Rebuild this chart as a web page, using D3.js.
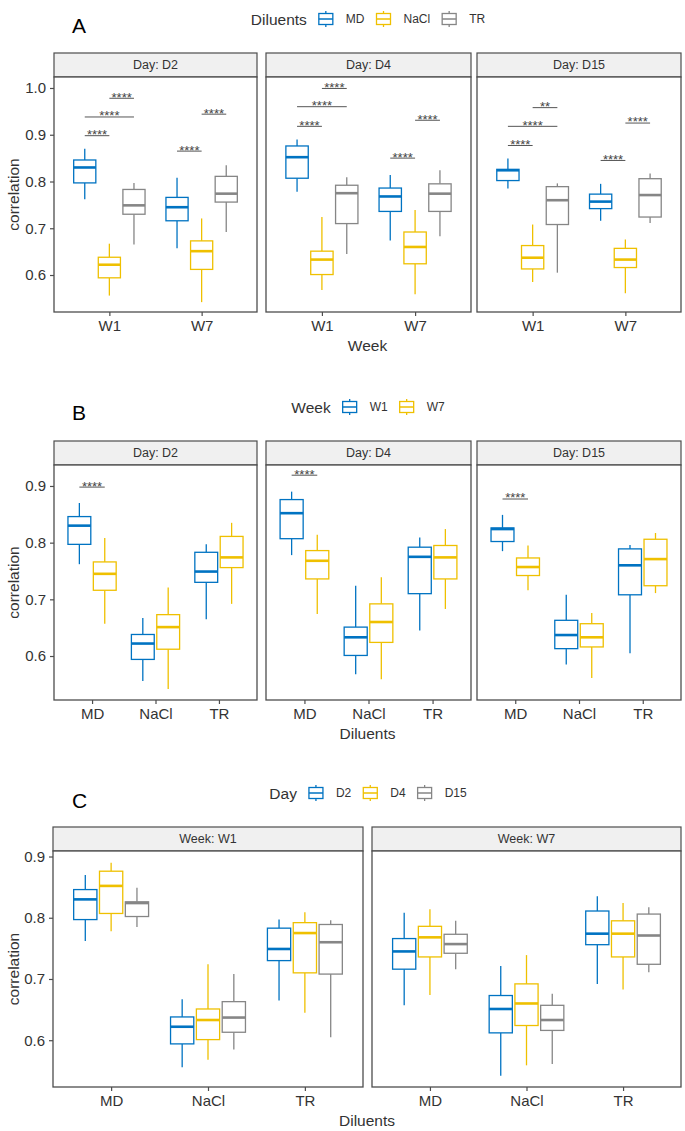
<!DOCTYPE html>
<html><head><meta charset="utf-8">
<script src="https://cdn.jsdelivr.net/npm/d3@7"></script>
<style>
body{margin:0;background:#fff}
svg{display:block}
text{font-family:"Liberation Sans",Arial,Helvetica,sans-serif}
</style>
</head><body>
<svg id="chart" width="685" height="1131"></svg>
<script>
// ---------------- DATA ----------------
const days = ["D2", "D4", "D15"];
const weeks = ["W1", "W7"];
const diluents = ["MD", "NaCl", "TR"];
const palette = ["#0073C2", "#EFC000", "#868686"];

// five-number summaries [lower whisker, Q1, median, Q3, upper whisker] in order MD, NaCl, TR
const D2_W1  = [[0.762,0.797,0.830,0.846,0.870],[0.556,0.594,0.622,0.638,0.667],[0.665,0.730,0.749,0.783,0.797]];
const D2_W7  = [[0.657,0.716,0.745,0.766,0.808],[0.542,0.612,0.651,0.673,0.721],[0.692,0.756,0.774,0.811,0.835]];
const D4_W1  = [[0.778,0.807,0.852,0.876,0.890],[0.568,0.601,0.633,0.651,0.724],[0.645,0.710,0.775,0.792,0.809]];
const D4_W7  = [[0.674,0.736,0.768,0.786,0.814],[0.559,0.624,0.660,0.692,0.739],[0.683,0.736,0.774,0.795,0.824]];
const D15_W1 = [[0.785,0.802,0.824,0.826,0.849],[0.585,0.613,0.637,0.663,0.708],[0.605,0.708,0.760,0.789,0.796]];
const D15_W7 = [[0.716,0.742,0.757,0.773,0.795],[0.561,0.616,0.633,0.657,0.676],[0.711,0.724,0.771,0.806,0.817]];

// significance annotations, panel A: [week, group1, group2, y, label]
const sigA_D2  = [["W1","MD","NaCl",0.898,"****"],["W1","MD","TR",0.938,"****"],["W1","NaCl","TR",0.978,"****"],
                  ["W7","MD","NaCl",0.865,"****"],["W7","NaCl","TR",0.944,"****"]];
const sigA_D4  = [["W1","MD","NaCl",0.918,"****"],["W1","MD","TR",0.960,"****"],["W1","NaCl","TR",0.999,"****"],
                  ["W7","MD","NaCl",0.850,"****"],["W7","NaCl","TR",0.931,"****"]];
const sigA_D15 = [["W1","MD","NaCl",0.877,"****"],["W1","MD","TR",0.918,"****"],["W1","NaCl","TR",0.958,"**"],
                  ["W7","MD","NaCl",0.845,"****"],["W7","NaCl","TR",0.925,"****"]];
// panel B: [day, diluent, group1, group2, y, label]
const sigB = [["D2","MD","W1","W7",0.898,"****"],["D4","MD","W1","W7",0.919,"****"],["D15","MD","W1","W7",0.877,"****"]];

const ticksA = [0.6, 0.7, 0.8, 0.9, 1.0];
const ticksBC = [0.6, 0.7, 0.8, 0.9];

// ---------------- lookup ----------------
const statTable = {D2:{W1:D2_W1,W7:D2_W7}, D4:{W1:D4_W1,W7:D4_W7}, D15:{W1:D15_W1,W7:D15_W7}};
function stat(day, week, dil){ return statTable[day][week][diluents.indexOf(dil)]; }
const sigATable = {D2:sigA_D2, D4:sigA_D4, D15:sigA_D15};

// ---------------- drawing ----------------
const svg = d3.select("#chart");
const BORDER = "#4d4d4d", TXT = "#333";

function facetRow(cfg){
  const g = svg.append("g");
  const y = d3.scaleLinear().domain(cfg.domain).range([cfg.bottom, cfg.top]);
  cfg.panels.forEach((p, pi) => {
    const [x0, x1] = p;
    // strip
    g.append("rect").attr("x", x0).attr("y", cfg.stripTop).attr("width", x1 - x0).attr("height", cfg.top - cfg.stripTop)
      .attr("fill", "#f0f0f0").attr("stroke", BORDER).attr("stroke-width", 1.2);
    g.append("text").attr("x", (x0 + x1) / 2).attr("y", (cfg.stripTop + cfg.top) / 2 + 4.3)
      .attr("text-anchor", "middle").attr("font-size", 12.5).attr("fill", TXT).text(cfg.facetLabels[pi]);
    // panel
    g.append("rect").attr("x", x0).attr("y", cfg.top).attr("width", x1 - x0).attr("height", cfg.bottom - cfg.top)
      .attr("fill", "#fff");
    const x = d3.scalePoint().domain(cfg.cats).range([x0, x1]).padding(0.6);
    const step = x.step();
    const ng = cfg.groups.length;
    const dodge = step * 0.8 / ng;
    const bw = dodge * 0.9;
    const gx = (cat, gi) => x(cat) + (gi - (ng - 1) / 2) * dodge;

    cfg.cats.forEach(cat => {
      cfg.groups.forEach((grp, gi) => {
        const s = cfg.getStats(pi, cat, grp);
        const cx = gx(cat, gi), col = palette[gi];
        const bx = g.append("g");
        bx.append("line").attr("x1", cx).attr("x2", cx).attr("y1", y(s[4])).attr("y2", y(s[3]))
          .attr("stroke", col).attr("stroke-width", 1.3);
        bx.append("line").attr("x1", cx).attr("x2", cx).attr("y1", y(s[1])).attr("y2", y(s[0]))
          .attr("stroke", col).attr("stroke-width", 1.3);
        bx.append("rect").attr("x", cx - bw / 2).attr("y", y(s[3])).attr("width", bw).attr("height", y(s[1]) - y(s[3]))
          .attr("fill", "#fff").attr("stroke", col).attr("stroke-width", 1.3);
        bx.append("line").attr("x1", cx - bw / 2).attr("x2", cx + bw / 2).attr("y1", y(s[2])).attr("y2", y(s[2]))
          .attr("stroke", col).attr("stroke-width", 2.6);
      });
    });
    // significance
    (cfg.sigs ? cfg.sigs(pi) : []).forEach(sg => {
      const xa = gx(sg.cat, cfg.groups.indexOf(sg.g1)), xb = gx(sg.cat, cfg.groups.indexOf(sg.g2));
      const yy = y(sg.y);
      g.append("line").attr("x1", xa).attr("x2", xb).attr("y1", yy).attr("y2", yy)
        .attr("stroke", "#555").attr("stroke-width", 1);
      g.append("text").attr("x", (xa + xb) / 2).attr("y", yy + 3.4).attr("text-anchor", "middle")
        .attr("font-size", 13).attr("fill", "#444").text(sg.label);
    });
    // border
    g.append("rect").attr("x", x0).attr("y", cfg.top).attr("width", x1 - x0).attr("height", cfg.bottom - cfg.top)
      .attr("fill", "none").attr("stroke", BORDER).attr("stroke-width", 1.3);
    // x axis
    const ax = g.append("g").attr("transform", `translate(0,${cfg.bottom})`)
      .call(d3.axisBottom(x).tickSize(4).tickPadding(4));
    ax.select(".domain").remove();
    ax.selectAll("line").attr("stroke", BORDER).attr("stroke-width", 1.2);
    ax.selectAll("text").attr("font-size", 15).attr("fill", TXT).attr("font-family", null);
    // y axis on first panel
    if (pi === 0) {
      const ay = g.append("g").attr("transform", `translate(${x0},0)`)
        .call(d3.axisLeft(y).tickValues(cfg.ticks).tickFormat(d3.format(".1f")).tickSize(4).tickPadding(4));
      ay.select(".domain").remove();
      ay.selectAll("line").attr("stroke", BORDER).attr("stroke-width", 1.2);
      ay.selectAll("text").attr("font-size", 15).attr("fill", TXT).attr("font-family", null);
    }
  });
  // axis titles
  const xl = cfg.panels[0][0], xr = cfg.panels[cfg.panels.length - 1][1];
  g.append("text").attr("x", (xl + xr) / 2).attr("y", cfg.bottom + 39).attr("text-anchor", "middle")
    .attr("font-size", 15.5).attr("fill", TXT).text(cfg.xTitle);
  g.append("text").attr("transform", `translate(19,${(cfg.top + cfg.bottom) / 2}) rotate(-90)`)
    .attr("text-anchor", "middle").attr("font-size", 15.5).attr("fill", TXT).text("correlation");
  // panel letter
  g.append("text").attr("x", 72).attr("y", cfg.letterY).attr("font-size", 21).attr("fill", "#000").text(cfg.letter);
  // legend
  const lg = g.append("g");
  const title = lg.append("text").attr("x", 0).attr("y", 5.5).attr("font-size", 15.5).attr("fill", TXT).text(cfg.legendTitle);
  let cur = title.node().getComputedTextLength() + 10;
  cfg.groups.forEach((lab, i) => {
    const col = palette[i];
    const kx = cur + 9;
    lg.append("line").attr("x1", kx).attr("x2", kx).attr("y1", -8).attr("y2", 8).attr("stroke", col).attr("stroke-width", 1.3);
    lg.append("rect").attr("x", kx - 7).attr("y", -5.5).attr("width", 14).attr("height", 11)
      .attr("fill", "#fff").attr("stroke", col).attr("stroke-width", 1.3);
    lg.append("line").attr("x1", kx - 7).attr("x2", kx + 7).attr("y1", 0).attr("y2", 0).attr("stroke", col).attr("stroke-width", 1.5);
    const t = lg.append("text").attr("x", cur + 29).attr("y", 4.3).attr("font-size", 12).attr("fill", TXT).text(lab);
    cur = cur + 29 + t.node().getComputedTextLength() + 10;
  });
  const total = cur - 10;
  lg.attr("transform", `translate(${368 - total / 2},${cfg.legendY})`);
}

// Panel A: facets by day, x = week, groups = diluents
facetRow({
  stripTop: 53, top: 77, bottom: 312,
  panels: [[54, 257], [266, 471], [477, 681]],
  facetLabels: days.map(d => "Day: " + d),
  cats: weeks, groups: diluents,
  domain: [0.5209, 1.0235], ticks: ticksA,
  getStats: (pi, cat, grp) => stat(days[pi], cat, grp),
  sigs: pi => sigATable[days[pi]].map(r => ({cat: r[0], g1: r[1], g2: r[2], y: r[3], label: r[4]})),
  xTitle: "Week", letter: "A", letterY: 33, legendTitle: "Diluents", legendY: 19
});

// Panel B: facets by day, x = diluent, groups = weeks
facetRow({
  stripTop: 441, top: 465, bottom: 700,
  panels: [[54, 257], [266, 471], [477, 681]],
  facetLabels: days.map(d => "Day: " + d),
  cats: diluents, groups: weeks,
  domain: [0.5224, 0.937], ticks: ticksBC,
  getStats: (pi, cat, grp) => stat(days[pi], grp, cat),
  sigs: pi => sigB.filter(r => r[0] === days[pi]).map(r => ({cat: r[1], g1: r[2], g2: r[3], y: r[4], label: r[5]})),
  xTitle: "Diluents", letter: "B", letterY: 420, legendTitle: "Week", legendY: 407
});

// Panel C: facets by week, x = diluent, groups = days
facetRow({
  stripTop: 827, top: 851, bottom: 1087,
  panels: [[53, 363], [372, 681]],
  facetLabels: weeks.map(w => "Week: " + w),
  cats: diluents, groups: days,
  domain: [0.5236, 0.909], ticks: ticksBC,
  getStats: (pi, cat, grp) => stat(grp, weeks[pi], cat),
  sigs: null,
  xTitle: "Diluents", letter: "C", letterY: 808, legendTitle: "Day", legendY: 793
});
</script>
</body></html>
